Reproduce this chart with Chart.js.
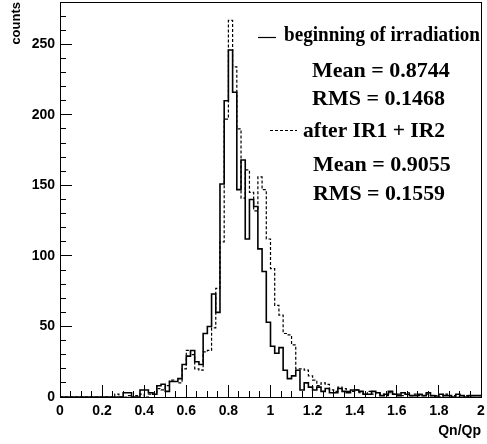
<!DOCTYPE html>
<html>
<head>
<meta charset="utf-8">
<script src="https://cdn.jsdelivr.net/npm/chart.js@4/dist/chart.umd.min.js"></script>
<style>
  html, body { margin: 0; padding: 0; background: #fff; }
  canvas { display: block; }
</style>
</head>
<body>
<canvas id="grafico" width="487" height="444"></canvas>
<script>
// Histograma Qn/Qp: 100 bins de 0.02 entre 0 y 2
const inicioBins = 0;
const anchoBin = 0.02;

// beginning of irradiation (linea continua)
const cuentasInicio = [
  0, 0, 0, 0, 0, 0, 0, 0, 0, 0,
  0, 0, 0, 0, 0, 0, 3, 3, 0, 0,
  5, 5, 3, 2, 8, 9, 4, 11, 11, 13,
  23, 29, 33, 25, 23, 45, 50, 73, 60, 151,
  210, 246, 216, 147, 168, 112, 140, 135, 105, 89,
  53, 36, 31, 35, 19, 13, 15, 19, 5, 10,
  7, 5, 7, 4, 6, 3, 3, 6, 4, 3,
  5, 5, 4, 2, 2, 4, 3, 1, 2, 4,
  2, 1, 3, 2, 1, 1, 2, 1, 3, 1,
  0, 2, 1, 1, 0, 2, 1, 0, 1, 1
];

// after IR1 + IR2 (linea discontinua)
const cuentasDespues = [
  0, 0, 0, 0, 0, 0, 0, 0, 0, 0,
  0, 0, 0, 0, 2, 0, 0, 1, 0, 1,
  2, 0, 2, 3, 6, 5, 8, 12, 11, 10,
  20, 33, 30, 20, 19, 32, 33, 49, 77, 110,
  197, 267, 234, 190, 141, 161, 145, 132, 156, 147,
  112, 91, 65, 58, 45, 44, 37, 20, 20, 19,
  15, 12, 8, 10, 9, 5, 4, 7, 6, 4,
  4, 5, 3, 2, 4, 2, 3, 2, 1, 3,
  2, 2, 1, 3, 1, 2, 1, 1, 2, 1,
  1, 0, 2, 1, 1, 0, 1, 1, 0, 1
];

const etiquetasSerie = ['beginning of irradiation', 'after IR1 + IR2'];
const medias = ['0.8744', '0.9055'];
const rmsValores = ['0.1468', '0.1559'];

const tituloX = 'Qn/Qp';
const tituloY = 'counts';

document.addEventListener('DOMContentLoaded', function() {

    function crearPuntos(cuentas) {
        // puntos en el borde izquierdo de cada bin, mas el borde final
        const puntos = cuentas.map((c, i) => ({ x: inicioBins + i * anchoBin, y: c }));
        puntos.push({ x: inicioBins + cuentas.length * anchoBin, y: cuentas[cuentas.length - 1] });
        return puntos;
    }

    // sin relleno extra de las etiquetas, el area de datos queda fija
    function sinRelleno(scale) {
        scale.paddingLeft = 0;
        scale.paddingRight = 0;
        scale.paddingTop = 0;
        scale.paddingBottom = 0;
    }

    const fuenteEjes = { family: '"Liberation Sans", Arial, sans-serif', size: 14, weight: 'bold' };

    // marco completo alrededor del area de datos
    const marco = {
        id: 'marco',
        afterDraw(chart) {
            const { ctx, chartArea } = chart;
            ctx.save();
            ctx.strokeStyle = '#000';
            ctx.lineWidth = 1;
            ctx.strokeRect(Math.round(chartArea.left) + 0.5, Math.round(chartArea.top) + 0.5,
                Math.round(chartArea.right - chartArea.left), Math.round(chartArea.bottom - chartArea.top));
            ctx.restore();
        }
    };

    // leyenda con estadisticas, estilo ROOT
    const leyenda = {
        id: 'leyenda',
        afterDraw(chart) {
            const ctx = chart.ctx;
            ctx.save();
            ctx.fillStyle = '#000';
            ctx.strokeStyle = '#000';
            ctx.font = 'bold 22px "Liberation Serif", "Times New Roman", serif';
            ctx.textBaseline = 'alphabetic';

            // muestra continua
            ctx.lineWidth = 1.2;
            ctx.beginPath();
            ctx.moveTo(258, 37.5);
            ctx.lineTo(276, 37.5);
            ctx.stroke();
            ctx.fillText(etiquetasSerie[0], 284, 41, 196);
            ctx.fillText('Mean = ' + medias[0], 312, 77, 145);
            ctx.fillText('RMS = ' + rmsValores[0], 312, 105, 145);

            // muestra discontinua
            ctx.setLineDash([3, 2]);
            ctx.beginPath();
            ctx.moveTo(270, 130.5);
            ctx.lineTo(297, 130.5);
            ctx.stroke();
            ctx.setLineDash([]);
            ctx.fillText(etiquetasSerie[1], 303, 137, 142);
            ctx.fillText('Mean = ' + medias[1], 313, 171, 145);
            ctx.fillText('RMS = ' + rmsValores[1], 313, 200, 132);
            ctx.restore();
        }
    };

    const ctx = document.getElementById('grafico').getContext('2d');
    new Chart(ctx, {
        type: 'line',
        data: {
            datasets: [
                {
                    label: etiquetasSerie[1],
                    data: crearPuntos(cuentasDespues),
                    borderColor: '#000',
                    borderWidth: 1.2,
                    borderDash: [3, 2],
                    stepped: 'after',
                    pointRadius: 0,
                    fill: false,
                    xAxisID: 'x',
                    yAxisID: 'y'
                },
                {
                    label: etiquetasSerie[0],
                    data: crearPuntos(cuentasInicio),
                    borderColor: '#000',
                    borderWidth: 1.6,
                    stepped: 'after',
                    pointRadius: 0,
                    fill: false,
                    xAxisID: 'x',
                    yAxisID: 'y'
                }
            ]
        },
        options: {
            responsive: false,
            animation: false,
            layout: { padding: { top: 2, right: 6, left: 0, bottom: 0 } },
            plugins: {
                legend: { display: false },
                tooltip: { enabled: false }
            },
            scales: {
                x: {
                    type: 'linear',
                    position: 'bottom',
                    weight: 1,
                    min: 0,
                    max: 2,
                    border: { display: true, color: '#000', width: 1 },
                    grid: { drawOnChartArea: false, drawTicks: true, tickLength: -12, color: '#000', tickColor: '#000' },
                    ticks: {
                        stepSize: 0.2,
                        includeBounds: false,
                        padding: 18,
                        color: '#000',
                        font: fuenteEjes,
                        maxRotation: 0,
                        autoSkip: false,
                        callback: (valor) => String(parseFloat(Number(valor).toFixed(2)))
                    },
                    title: {
                        display: true,
                        text: tituloX,
                        align: 'end',
                        color: '#000',
                        font: { family: '"Liberation Sans", Arial, sans-serif', size: 14, weight: 'bold' },
                        padding: { top: 0, bottom: 4 }
                    },
                    afterFit(scale) { scale.height = 47; sinRelleno(scale); }
                },
                xMenor: {
                    type: 'linear',
                    position: 'bottom',
                    weight: 0,
                    min: 0,
                    max: 2,
                    border: { display: false },
                    grid: { drawOnChartArea: false, drawTicks: true, tickLength: -6, color: '#000', tickColor: '#000' },
                    ticks: { display: false, stepSize: 0.05, maxTicksLimit: 100 },
                    afterFit(scale) { scale.height = 0; sinRelleno(scale); }
                },
                y: {
                    type: 'linear',
                    position: 'left',
                    weight: 1,
                    min: 0,
                    max: 280,
                    border: { display: true, color: '#000', width: 1 },
                    grid: { drawOnChartArea: false, drawTicks: true, tickLength: -12, color: '#000', tickColor: '#000' },
                    ticks: {
                        stepSize: 50,
                        includeBounds: false,
                        padding: 17,
                        color: '#000',
                        font: fuenteEjes
                    },
                    title: {
                        display: true,
                        text: tituloY,
                        align: 'end',
                        color: '#000',
                        font: { family: '"Liberation Sans", Arial, sans-serif', size: 13, weight: 'bold' },
                        padding: { top: 9, bottom: 0 }
                    },
                    afterFit(scale) { scale.width = 60; sinRelleno(scale); }
                },
                yMenor: {
                    type: 'linear',
                    position: 'left',
                    weight: 0,
                    min: 0,
                    max: 280,
                    border: { display: false },
                    grid: { drawOnChartArea: false, drawTicks: true, tickLength: -6, color: '#000', tickColor: '#000' },
                    ticks: { display: false, stepSize: 10, maxTicksLimit: 100 },
                    afterFit(scale) { scale.width = 0; sinRelleno(scale); }
                }
            }
        },
        plugins: [marco, leyenda]
    });
});
</script>
</body>
</html>
